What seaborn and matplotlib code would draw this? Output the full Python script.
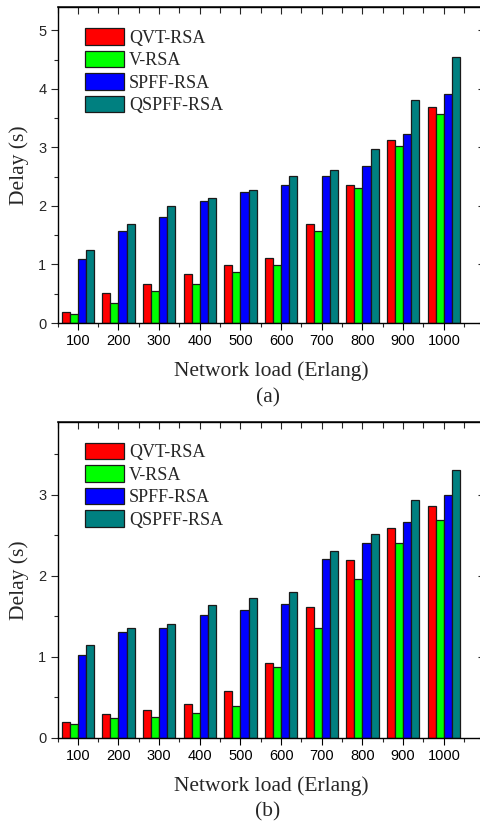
import numpy as np
import pandas as pd
import matplotlib
matplotlib.use("Agg")
import matplotlib.pyplot as plt
import seaborn as sns
from matplotlib.patches import Patch
from matplotlib.ticker import FixedLocator, MultipleLocator

loads = ["100", "200", "300", "400", "500", "600", "700", "800", "900", "1000"]
methods = ["QVT-RSA", "V-RSA", "SPFF-RSA", "QSPFF-RSA"]
colors = ["#FF0000", "#00FF00", "#0000FF", "#008080"]

# (a)
qvt_a = [0.18, 0.52, 0.66, 0.83, 0.99, 1.11, 1.69, 2.35, 3.12, 3.69]
v_a = [0.15, 0.34, 0.54, 0.66, 0.87, 0.99, 1.57, 2.31, 3.02, 3.57]
spff_a = [1.09, 1.57, 1.81, 2.09, 2.24, 2.36, 2.51, 2.69, 3.23, 3.91]
qspff_a = [1.24, 1.70, 2.00, 2.14, 2.27, 2.52, 2.62, 2.98, 3.81, 4.55]

# (b)
qvt_b = [0.19, 0.29, 0.34, 0.41, 0.58, 0.92, 1.61, 2.19, 2.59, 2.86]
v_b = [0.17, 0.24, 0.26, 0.31, 0.39, 0.87, 1.35, 1.96, 2.40, 2.69]
spff_b = [1.02, 1.31, 1.36, 1.51, 1.58, 1.65, 2.20, 2.40, 2.66, 2.99]
qspff_b = [1.14, 1.35, 1.40, 1.64, 1.73, 1.80, 2.30, 2.51, 2.93, 3.30]

sns.set_theme(style="ticks")
plt.rcParams["font.family"] = ["Liberation Serif", "DejaVu Serif"]


def long_df(series):
    rows = []
    for m, vals in zip(methods, series):
        for l, v in zip(loads, vals):
            rows.append({"load": l, "method": m, "delay": v})
    return pd.DataFrame(rows)


W, H = 480, 825
fig = plt.figure(figsize=(W / 100, H / 100), dpi=100)
ax_left = 57.5 / W
ax_w = 427 / W
ax_h = 316 / H
ax1 = fig.add_axes([ax_left, 1 - 323 / H, ax_w, ax_h])
ax2 = fig.add_axes([ax_left, 1 - 737.7 / H, ax_w, ax_h])

LABEL_SIZE = 15.5


def draw(ax, series, ytop, ymaj):
    df = long_df(series)
    sns.barplot(data=df, x="load", y="delay", hue="method", order=loads,
                hue_order=methods, palette=colors, edgecolor="#1a1a1a",
                linewidth=0.9, saturation=1, legend=False, ax=ax, width=0.8)
    ax.set_xlim(-0.5, 10.0)
    ax.set_ylim(0, ytop)
    ax.set_xticks(range(len(loads)))
    ax.set_xticklabels(loads)
    ax.xaxis.set_minor_locator(FixedLocator(np.arange(-0.5, 10.01, 1)))
    ax.set_yticks(ymaj)
    ax.set_yticklabels([str(v) for v in ymaj])
    ax.yaxis.set_minor_locator(MultipleLocator(0.5))
    for lab in ax.get_xticklabels() + ax.get_yticklabels():
        lab.set_fontfamily("Liberation Sans")
        lab.set_fontsize(10.5)
    ax.tick_params(axis="x", which="major", direction="out", length=5, width=0.8, pad=3, colors="black")
    ax.tick_params(axis="x", which="minor", direction="out", length=3, width=0.8)
    ax.tick_params(axis="y", which="major", direction="out", length=5, width=0.8, pad=3)
    ax.tick_params(axis="y", which="minor", direction="out", length=3, width=0.8)
    for s in ax.spines.values():
        s.set_visible(True)
        s.set_linewidth(1.0)
        s.set_color("black")
    # top and right inward ticks
    sx = ax.secondary_xaxis("top")
    sx.set_xticks(range(len(loads)))
    sx.xaxis.set_minor_locator(FixedLocator(np.arange(-0.5, 10.01, 1)))
    sx.tick_params(which="major", direction="in", length=5, width=0.8, labeltop=False)
    sx.tick_params(which="minor", direction="in", length=4, width=0.8)
    sy = ax.secondary_yaxis("right")
    sy.set_yticks(ymaj)
    sy.yaxis.set_minor_locator(MultipleLocator(0.5))
    sy.tick_params(which="major", direction="in", length=5, width=0.8, labelright=False)
    sy.tick_params(which="minor", direction="in", length=3, width=0.8)

    ax.set_ylabel("Delay (s)", fontsize=LABEL_SIZE, fontfamily="Liberation Serif")
    ax.yaxis.set_label_coords((19 - 57.5) / 427, 0.5)
    ax.yaxis.label.set_va("center")
    ax.set_xlabel("Network load (Erlang)", fontsize=LABEL_SIZE, fontfamily="Liberation Serif")
    handles = [Patch(facecolor=c, edgecolor="#1a1a1a", linewidth=0.9) for c in colors]
    ax.legend(handles, methods, loc="upper left", frameon=False,
              bbox_to_anchor=(27.5 / 427, 1 - 21 / 316), borderpad=0, borderaxespad=0,
              prop=dict(family="Liberation Serif", size=13),
              handlelength=2.15, handleheight=1.05, labelspacing=0.22, handletextpad=0.3)


draw(ax1, [qvt_a, v_a, spff_a, qspff_a], 5.4, [0, 1, 2, 3, 4, 5])
draw(ax2, [qvt_b, v_b, spff_b, qspff_b], 3.9, [0, 1, 2, 3])

ax1.xaxis.set_label_coords(0.5, (323 - 371.5) / 316)
ax1.xaxis.label.set_va("center")
ax2.xaxis.set_label_coords(0.5, (737.7 - 785.7) / 316)
ax2.xaxis.label.set_va("center")

fig.text(268 / W, 1 - 397.5 / H, "(a)", ha="center", va="center", fontsize=LABEL_SIZE, fontfamily="Liberation Serif")
fig.text(268 / W, 1 - 812 / H, "(b)", ha="center", va="center", fontsize=LABEL_SIZE, fontfamily="Liberation Serif")

fig.savefig("out.png", dpi=100)
